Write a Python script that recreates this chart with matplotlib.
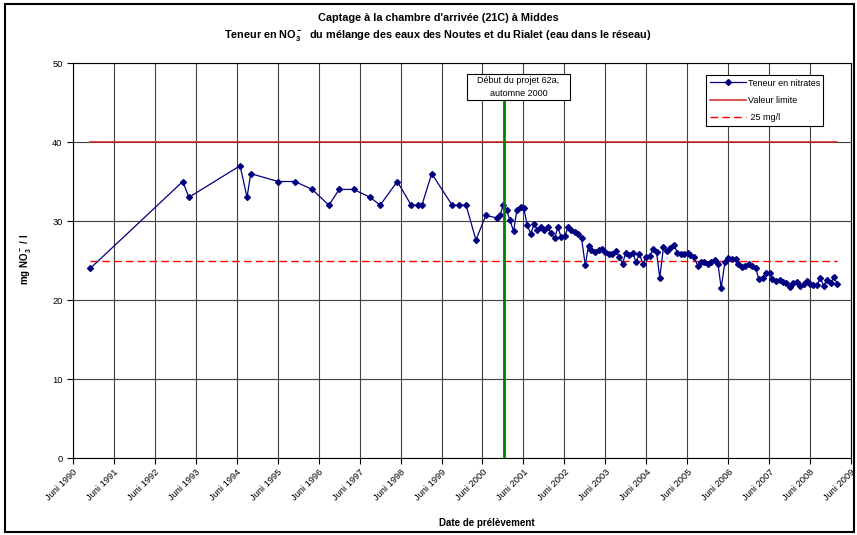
import matplotlib
matplotlib.use("Agg")
import matplotlib.pyplot as plt
from matplotlib.patches import Rectangle

plt.rcParams['font.family'] = ['Liberation Sans', 'DejaVu Sans']
plt.rcParams['mathtext.fontset'] = 'custom'
plt.rcParams['mathtext.rm'] = 'Liberation Sans:bold'
plt.rcParams['mathtext.bf'] = 'Liberation Sans:bold'
plt.rcParams['mathtext.default'] = 'bf'

# sampling dates (decimal years) and nitrate content in mg NO3-/l
dates = [1990.92, 1993.18, 1993.33, 1994.58, 1994.75, 1994.84, 1995.51, 1995.92,
         1996.34, 1996.75, 1997.00, 1997.35, 1997.76, 1998.00, 1998.42, 1998.76,
         1998.93, 1999.02, 1999.26, 1999.76, 1999.93, 2000.10, 2000.34, 2000.58,
         2000.85, 2000.93, 2001.01, 2001.09, 2001.17, 2001.26, 2001.34, 2001.43,
         2001.51, 2001.59, 2001.68, 2001.76, 2001.84, 2001.92, 2002.00, 2002.09,
         2002.17, 2002.26, 2002.34, 2002.42, 2002.51, 2002.59, 2002.67, 2002.75,
         2002.83, 2002.92, 2003.01, 2003.09, 2003.16, 2003.25, 2003.34, 2003.42,
         2003.50, 2003.58, 2003.67, 2003.75, 2003.84, 2003.92, 2004.00, 2004.08,
         2004.17, 2004.25, 2004.33, 2004.42, 2004.50, 2004.58, 2004.67, 2004.75,
         2004.83, 2004.92, 2005.01, 2005.09, 2005.17, 2005.26, 2005.34, 2005.42,
         2005.51, 2005.58, 2005.67, 2005.76, 2005.84, 2005.91, 2006.00, 2006.09,
         2006.17, 2006.25, 2006.33, 2006.42, 2006.50, 2006.59, 2006.68, 2006.75,
         2006.84, 2006.92, 2007.01, 2007.09, 2007.17, 2007.25, 2007.34, 2007.42,
         2007.51, 2007.58, 2007.67, 2007.76, 2007.84, 2007.91, 2008.00, 2008.09,
         2008.17, 2008.25, 2008.34, 2008.42, 2008.50, 2008.58, 2008.67, 2008.75,
         2008.83, 2008.91, 2009.00, 2009.08, 2009.17]
nitrates = [24.0, 35.0, 33.0, 37.0, 33.0, 36.0, 35.0, 35.0,
            34.0, 32.0, 34.0, 34.0, 33.0, 32.0, 35.0, 32.0,
            32.0, 32.0, 36.0, 32.0, 32.0, 32.0, 27.6, 30.7,
            30.4, 30.8, 32.0, 31.4, 30.1, 28.7, 31.4, 31.8,
            31.6, 29.5, 28.4, 29.6, 28.9, 29.3, 28.9, 29.2,
            28.5, 27.8, 29.2, 28.0, 28.1, 29.2, 28.8, 28.6,
            28.4, 27.8, 24.4, 26.9, 26.3, 26.1, 26.3, 26.5,
            26.1, 25.8, 25.8, 26.2, 25.5, 24.6, 26.0, 25.7,
            26.0, 24.8, 25.8, 24.6, 25.5, 25.6, 26.4, 26.1,
            22.8, 26.7, 26.2, 26.6, 27.0, 26.0, 25.8, 25.8,
            25.9, 25.7, 25.4, 24.3, 24.8, 24.8, 24.6, 24.8,
            25.1, 24.6, 21.5, 24.8, 25.3, 25.2, 25.2, 24.6,
            24.2, 24.3, 24.6, 24.3, 24.1, 22.6, 22.8, 23.4,
            23.4, 22.6, 22.4, 22.5, 22.3, 22.2, 21.7, 22.1,
            22.3, 21.8, 22.0, 22.4, 22.0, 21.9, 21.9, 22.8,
            21.8, 22.5, 22.1, 22.9, 22.0]

limit_value = 40
guide_value = 25
project_start = 2001.02
tick_years = list(range(1990, 2010))
tick_labels = ['Juni %d' % y for y in tick_years]

fig = plt.figure(figsize=(8.57, 5.35), dpi=100)
ax = fig.add_axes([0.0852, 0.1439, 0.9078, 0.7383])

ax.plot(dates, nitrates, color='#000080', lw=0.9, marker='D', ms=3,
        mec='#000080', mfc='#000080', label='Teneur en nitrates', zorder=5)
ax.plot([dates[0], dates[-1]], [limit_value, limit_value], color='#D02020',
        lw=1.1, label='Valeur limite', zorder=4)
ax.plot([dates[0], dates[-1]], [guide_value, guide_value], color='#FF0000',
        lw=1.0, ls=(0, (5.5, 3)), label=' 25 mg/l', zorder=4)

# start of project 62a
ax.vlines(project_start, 0, 45.32, color='#008000', lw=2, zorder=6)
ax.add_patch(Rectangle((2000.12, 45.32), 2.52, 3.29, fc='white', ec='black',
                       lw=0.8, zorder=7))
ax.text(2001.38, 46.96, 'Début du projet 62a,\nautomne 2000', ha='center', va='center',
        fontsize=6.5, linespacing=1.45, zorder=8)

ax.set_xlim(1990.5, 2009.5)
ax.set_ylim(0, 50)
ax.set_yticks(range(0, 51, 10))
ax.set_xticks([y + 0.5 for y in tick_years])
ax.set_xticklabels(tick_labels, rotation=45, ha='right', rotation_mode='anchor')
ax.tick_params(axis='both', labelsize=6.7, length=4, width=0.8, direction='out')
ax.tick_params(axis='x', pad=3)
ax.grid(True, color='#404040', lw=0.8)
ax.set_axisbelow(True)
for s in ax.spines.values():
    s.set_color('black')
    s.set_linewidth(0.8)

leg = ax.legend(loc='upper left', bbox_to_anchor=(0.8136, 0.9696), borderaxespad=0,
                fontsize=6.5, frameon=True, fancybox=False, edgecolor='black',
                framealpha=1, handlelength=4, handletextpad=0.2, labelspacing=0.9)
leg.get_frame().set_linewidth(0.8)

fig.text(0.511, 0.966, "Captage à la chambre d'arrivée (21C) à Middes",
         ha='center', va='center', fontsize=7.8, fontweight='bold')
fig.text(0.511, 0.933, 'Teneur en NO$_3^-$  du mélange des eaux des Noutes et du Rialet (eau dans le réseau)',
         ha='center', va='center', fontsize=7.8, fontweight='bold')
fig.text(0.030, 0.515, 'mg NO$_3^-$ / l', rotation=90, ha='center', va='center',
         fontsize=7, fontweight='bold')
fig.text(0.568, 0.023, 'Date de prélèvement', ha='center', va='center',
         fontsize=7, fontweight='bold')

fig.patches.append(Rectangle((5 / 857, 3 / 535), 849 / 857, 528 / 535,
                             transform=fig.transFigure, fill=False,
                             ec='black', lw=1.5))

fig.savefig('out.png', dpi=100)
